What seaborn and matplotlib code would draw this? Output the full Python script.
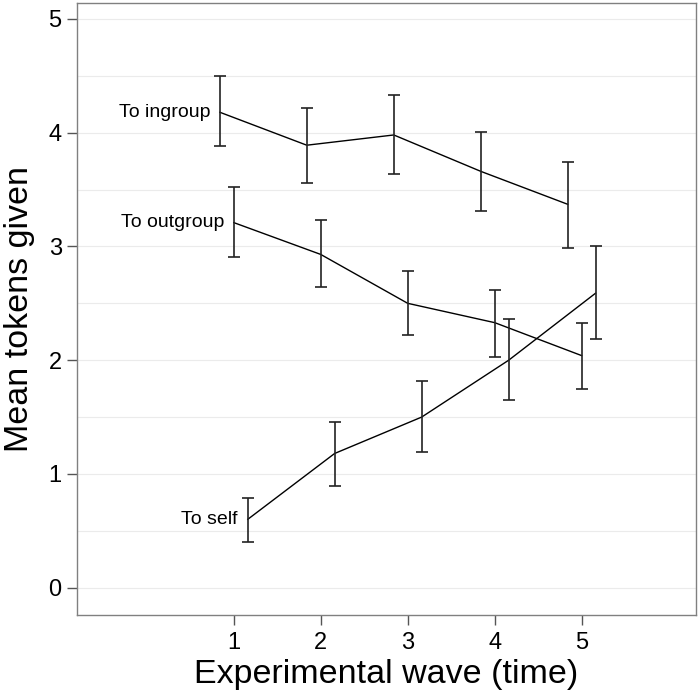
import numpy as np
import pandas as pd
import matplotlib
matplotlib.use("Agg")
import matplotlib.pyplot as plt
import seaborn as sns

# ---- data ----
waves = [1, 2, 3, 4, 5]
groups = ["To ingroup", "To outgroup", "To self"]
ingroup_mean = [4.18, 3.89, 3.98, 3.66, 3.37]
ingroup_lo = [3.88, 3.56, 3.64, 3.31, 2.99]
ingroup_hi = [4.50, 4.22, 4.33, 4.01, 3.74]
outgroup_mean = [3.21, 2.93, 2.50, 2.33, 2.04]
outgroup_lo = [2.91, 2.64, 2.22, 2.03, 1.75]
outgroup_hi = [3.52, 3.23, 2.78, 2.62, 2.33]
self_mean = [0.60, 1.18, 1.50, 2.00, 2.59]
self_lo = [0.40, 0.89, 1.19, 1.65, 2.19]
self_hi = [0.79, 1.46, 1.82, 2.36, 3.00]
y_ticks = [0, 1, 2, 3, 4, 5]

means = [ingroup_mean, outgroup_mean, self_mean]
los = [ingroup_lo, outgroup_lo, self_lo]
his = [ingroup_hi, outgroup_hi, self_hi]
dodge = [-0.16, 0.0, 0.16]

rows = []
for g, m, lo, hi, d in zip(groups, means, los, his, dodge):
    for w, mv, l, h in zip(waves, m, lo, hi):
        rows.append({"group": g, "wave": w, "x": w + d, "mean": mv, "lo": l, "hi": h})
df = pd.DataFrame(rows)

sns.set_theme(style="white")
plt.rcParams["font.family"] = ["Liberation Sans", "DejaVu Sans"]

fig = plt.figure(figsize=(7, 7), dpi=100)
ax = fig.add_axes([0.11, 0.1214, 0.884, 0.8743])

# grid
for y in np.arange(0, 5.01, 0.5):
    ax.axhline(y, color="#EBEBEB", lw=0.8, zorder=0)

sns.lineplot(data=df, x="x", y="mean", hue="group", palette=["black"] * 3,
             legend=False, ax=ax, lw=1.0, zorder=3, estimator=None, sort=True)

for g in groups:
    sub = df[df.group == g]
    ax.errorbar(sub["x"], sub["mean"],
                yerr=[sub["mean"] - sub["lo"], sub["hi"] - sub["mean"]],
                fmt="none", ecolor="#222222", elinewidth=1.2, capsize=4.5,
                capthick=1.2, zorder=4)

# labels at the first point of each line
for g in groups:
    sub = df[df.group == g].iloc[0]
    ax.annotate(g, (sub["x"], sub["mean"]), xytext=(-7, 0),
                textcoords="offset points", ha="right", va="center",
                fontsize=14, color="black")

ax.set_xlim(-0.80, 6.31)
ax.set_ylim(-0.24, 5.14)
ax.set_xticks(waves)
ax.set_yticks(y_ticks)
ax.set_xticklabels([str(w) for w in waves])
ax.set_yticklabels([str(t) for t in y_ticks])
ax.tick_params(axis="both", which="major", length=7, width=1.0, color="#555555",
               labelsize=17, labelcolor="black", pad=4, direction="out",
               bottom=True, left=True)
ax.tick_params(axis="x", pad=5)
for s in ax.spines.values():
    s.set_color("#808080")
    s.set_linewidth(1.0)

ax.set_xlabel("Experimental wave (time)", fontsize=24.5, color="black")
ax.set_ylabel("Mean tokens given", fontsize=24.5, color="black")
ax.xaxis.set_label_coords(0.5, -0.072)
ax.yaxis.set_label_coords(-0.068, 0.5)

fig.savefig("out.png", dpi=100)
